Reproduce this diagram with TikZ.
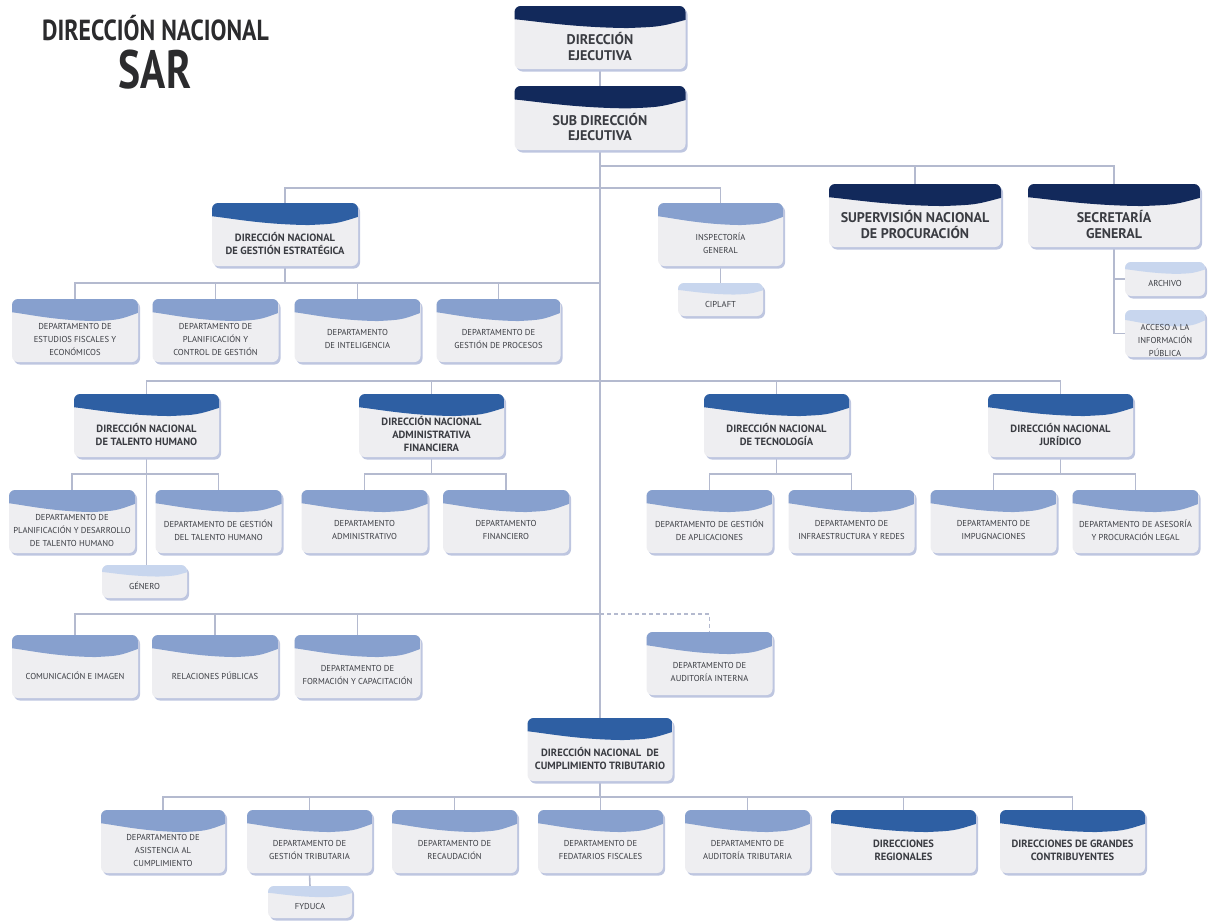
\documentclass[tikz,border=0pt]{standalone}
\usepackage{fontspec}
\setmainfont{PT Sans}
\usetikzlibrary{calc}
\definecolor{navy}{HTML}{12295B}
\definecolor{blu}{HTML}{2E5FA3}
\definecolor{lblu}{HTML}{87A0CE}
\definecolor{pale}{HTML}{C8D6EE}
\definecolor{bodyc}{HTML}{EEEEF1}
\definecolor{shad}{HTML}{BEC6E0}
\definecolor{linec}{HTML}{B4BACF}
\definecolor{txt}{HTML}{3A3C42}
\definecolor{ttl}{HTML}{2B2B2D}
\pgfdeclarelayer{lines}
\pgfdeclarelayer{bg}
\pgfsetlayers{lines,bg,main}
\tikzset{
  conn/.style={draw=linec, line width=1.6pt},
  dtext/.style={align=center, text=txt, inner sep=0pt, font=\fontsize{8.6}{13}\selectfont},
  ntext/.style={align=center, text=txt, inner sep=0pt, font=\fontsize{10.5}{13}\selectfont\bfseries},
  ttext/.style={align=center, text=txt, inner sep=0pt, font=\fontsize{14}{15.5}\selectfont\bfseries},
}
\newcommand\obox[8]{%
  \node[minimum width=#4pt, minimum height=#5pt, inner sep=0pt, outer sep=0pt] (#1) at (#2,#3) {};
  \node[#7] (#1-t) at ($(#1.center)+(0,-0.14*#5)$) {#8};
  \begin{pgfonlayer}{bg}
    \fill[shad, rounded corners=6pt] ($(#1.north west)+(2,-2.5)$) rectangle ($(#1.south east)+(2,-2.5)$);
    \fill[bodyc, rounded corners=6pt] (#1.north west) rectangle (#1.south east);
    \begin{scope}
      \clip[rounded corners=6pt] (#1.north west) rectangle (#1.south east);
      \fill[#6] (#1.north west) -- (#1.north east) -- ($(#1.north east)+(0,-0.22*#5)$)
        .. controls ($(#1.north west)+(0.85*#4,-0.33*#5)$) .. ($(#1.north west)+(0.66*#4,-0.35*#5)$)
        .. controls ($(#1.north west)+(0.35*#4,-0.34*#5)$) and ($(#1.north west)+(0.15*#4,-0.25*#5)$) .. ($(#1.north west)+(0,-0.21*#5)$) -- cycle;
    \end{scope}
  \end{pgfonlayer}}
\begin{document}
\begin{tikzpicture}[x=1pt,y=1pt]
\useasboundingbox (0,0) rectangle (1208,-921);
% title
\node[anchor=base, text=ttl, inner sep=0pt] (title1) at (155.5,-40) {\scalebox{0.82}[1]{\fontsize{29}{29}\selectfont\bfseries DIRECCIÓN NACIONAL}};
\node[anchor=base, text=ttl, inner sep=0pt] (title2) at (155,-88) {\scalebox{0.77}[1]{\fontsize{54}{54}\selectfont\bfseries SAR}};
% top
\obox{de}{600}{-37.5}{171}{63}{navy}{ttext}{DIRECCIÓN\\EJECUTIVA}
\obox{sde}{600}{-118}{171}{64}{navy}{ttext}{SUB DIRECCIÓN\\EJECUTIVA}
\obox{sup}{915}{-215.5}{172}{63}{navy}{ttext}{SUPERVISIÓN NACIONAL\\DE PROCURACIÓN}
\obox{sec}{1114}{-215.5}{172}{63}{navy}{ttext}{SECRETARÍA\\GENERAL}
\obox{arch}{1165}{-279}{80}{34}{pale}{dtext}{ARCHIVO}
\obox{acc}{1165}{-333.5}{80}{47}{pale}{dtext}{ACCESO A LA\\INFORMACIÓN\\PÚBLICA}
% gestion estrategica
\obox{ge}{285}{-234.5}{146}{63}{blu}{ntext}{DIRECCIÓN NACIONAL\\DE GESTIÓN ESTRATÉGICA}
\obox{insp}{720.5}{-234.5}{125}{63}{lblu}{dtext}{INSPECTORÍA\\GENERAL}
\obox{cip}{720.5}{-299.5}{85}{33}{pale}{dtext}{CIPLAFT}
\obox{d1}{75}{-330.5}{126}{63}{lblu}{dtext}{DEPARTAMENTO DE\\ESTUDIOS FISCALES Y\\ECONÓMICOS}
\obox{d2}{215.5}{-330.5}{126}{63}{lblu}{dtext}{DEPARTAMENTO DE\\PLANIFICACIÓN Y\\CONTROL DE GESTIÓN}
\obox{d3}{357.5}{-330.5}{126}{63}{lblu}{dtext}{DEPARTAMENTO\\DE INTELIGENCIA}
\obox{d4}{498.5}{-330.5}{124}{63}{lblu}{dtext}{DEPARTAMENTO DE\\GESTIÓN DE PROCESOS}
% row 3
\obox{dnth}{146.5}{-425.5}{145}{63}{blu}{ntext}{DIRECCIÓN NACIONAL\\DE TALENTO HUMANO}
\obox{dnaf}{431.5}{-425.5}{145}{63}{blu}{ntext}{DIRECCIÓN NACIONAL\\ADMINISTRATIVA\\FINANCIERA}
\obox{dnt}{776.5}{-425.5}{145}{63}{blu}{ntext}{DIRECCIÓN NACIONAL\\DE TECNOLOGÍA}
\obox{dnj}{1060.5}{-425.5}{145}{63}{blu}{ntext}{DIRECCIÓN NACIONAL\\JURÍDICO}
\obox{pdth}{72}{-521.5}{126}{63}{lblu}{dtext}{DEPARTAMENTO DE\\PLANIFICACIÓN Y DESARROLLO\\DE TALENTO HUMANO}
\obox{gdth}{218.5}{-521.5}{126}{63}{lblu}{dtext}{DEPARTAMENTO DE GESTIÓN\\DEL TALENTO HUMANO}
\obox{gen}{144.5}{-581.5}{85}{33}{pale}{dtext}{GÉNERO}
\obox{dadm}{364.5}{-521.5}{126}{63}{lblu}{dtext}{DEPARTAMENTO\\ADMINISTRATIVO}
\obox{dfin}{506}{-521.5}{126}{63}{lblu}{dtext}{DEPARTAMENTO\\FINANCIERO}
\obox{dapl}{709.5}{-521.5}{126}{63}{lblu}{dtext}{DEPARTAMENTO DE GESTIÓN\\DE APLICACIONES}
\obox{dinf}{851.5}{-521.5}{126}{63}{lblu}{dtext}{DEPARTAMENTO DE\\INFRAESTRUCTURA Y REDES}
\obox{dimp}{993.5}{-521.5}{126}{63}{lblu}{dtext}{DEPARTAMENTO DE\\IMPUGNACIONES}
\obox{dase}{1135.5}{-521.5}{126}{63}{lblu}{dtext}{DEPARTAMENTO DE ASESORÍA\\Y PROCURACIÓN LEGAL}
% row 5
\obox{com}{75}{-666.5}{126}{63}{lblu}{dtext}{COMUNICACIÓN E IMAGEN}
\obox{rp}{215}{-666.5}{126}{63}{lblu}{dtext}{RELACIONES PÚBLICAS}
\obox{form}{357.5}{-666.5}{126}{63}{lblu}{dtext}{DEPARTAMENTO DE\\FORMACIÓN Y CAPACITACIÓN}
\obox{audi}{709.5}{-663.5}{126}{63}{lblu}{dtext}{DEPARTAMENTO DE\\AUDITORÍA INTERNA}
% cumplimiento
\obox{cumpl}{600}{-749.5}{145}{63}{blu}{ntext}{DIRECCIÓN NACIONAL\ \ DE\\CUMPLIMIENTO TRIBUTARIO}
\obox{asis}{163}{-841.5}{124}{63}{lblu}{dtext}{DEPARTAMENTO DE\\ASISTENCIA AL\\CUMPLIMIENTO}
\obox{gt}{309.5}{-841.5}{125}{63}{lblu}{dtext}{DEPARTAMENTO DE\\GESTIÓN TRIBUTARIA}
\obox{rec}{454.5}{-841.5}{125}{63}{lblu}{dtext}{DEPARTAMENTO DE\\RECAUDACIÓN}
\obox{fed}{600.5}{-841.5}{125}{63}{lblu}{dtext}{DEPARTAMENTO DE\\FEDATARIOS FISCALES}
\obox{aut}{747.5}{-841.5}{125}{63}{lblu}{dtext}{DEPARTAMENTO DE\\AUDITORÍA TRIBUTARIA}
\obox{dreg}{903.5}{-841.5}{145}{63}{blu}{ntext}{DIRECCIONES\\REGIONALES}
\obox{dgc}{1072.5}{-841.5}{145}{63}{blu}{ntext}{DIRECCIONES DE GRANDES\\CONTRIBUYENTES}
\obox{fy}{310}{-902}{84}{32}{pale}{dtext}{FYDUCA}
% junctions
\coordinate (j1) at (600,-166);
\coordinate (j2) at (600,-188);
\coordinate (j3) at (600,-283);
\coordinate (j4) at (600,-381);
\coordinate (j5) at (600,-614);
\coordinate (j6) at (600,-797);
\coordinate (thj) at (146.5,-474);
\coordinate (afj) at (431.5,-474);
\coordinate (tcj) at (776.5,-474);
\coordinate (jrj) at (1060.5,-474);
% connectors
\begin{pgfonlayer}{lines}
\draw[conn] (de.south) -- (sde.north);
\draw[conn] (sde.south) -- (cumpl.north);
\draw[conn] (j1) -| (sup.north);
\draw[conn] (j1) -| (sec.north);
\draw[conn] (sec.south) |- (acc.west);
\draw[conn] (sec.south) |- (arch.west);
\draw[conn] (ge.north) |- (j2);
\draw[conn] (insp.north) |- (j2);
\draw[conn] (insp.south) -- (cip.north);
\draw[conn] (ge.south) -- (ge.south |- j3);
\draw[conn] (d1.north) |- (j3);
\draw[conn] (d2.north) |- (j3);
\draw[conn] (d3.north) |- (j3);
\draw[conn] (d4.north) |- (j3);
\draw[conn] (dnth.north) |- (j4);
\draw[conn] (dnaf.north) |- (j4);
\draw[conn] (dnt.north) |- (j4);
\draw[conn] (dnj.north) |- (j4);
\draw[conn] (dnth.south) -- (gen.north -| dnth.south);
\draw[conn] (pdth.north) |- (thj) -| (gdth.north);
\draw[conn] (dnaf.south) -- (afj);
\draw[conn] (dadm.north) |- (afj) -| (dfin.north);
\draw[conn] (dnt.south) -- (tcj);
\draw[conn] (dapl.north) |- (tcj) -| (dinf.north);
\draw[conn] (dnj.south) -- (jrj);
\draw[conn] (dimp.north) |- (jrj) -| (dase.north);
\draw[conn] (com.north) |- (j5);
\draw[conn] (rp.north) |- (j5);
\draw[conn] (form.north) |- (j5);
\draw[conn, line width=1.2pt, dash pattern=on 4pt off 3pt] (j5) -| (audi.north);
\draw[conn] (cumpl.south) -- (j6);
\draw[conn] (asis.north) |- (j6);
\draw[conn] (gt.north) |- (j6);
\draw[conn] (rec.north) |- (j6);
\draw[conn] (fed.north) |- (j6);
\draw[conn] (aut.north) |- (j6);
\draw[conn] (dreg.north) |- (j6);
\draw[conn] (dgc.north) |- (j6);
\draw[conn] (gt.south) -- (fy.north);
\end{pgfonlayer}
\end{tikzpicture}
\end{document}
